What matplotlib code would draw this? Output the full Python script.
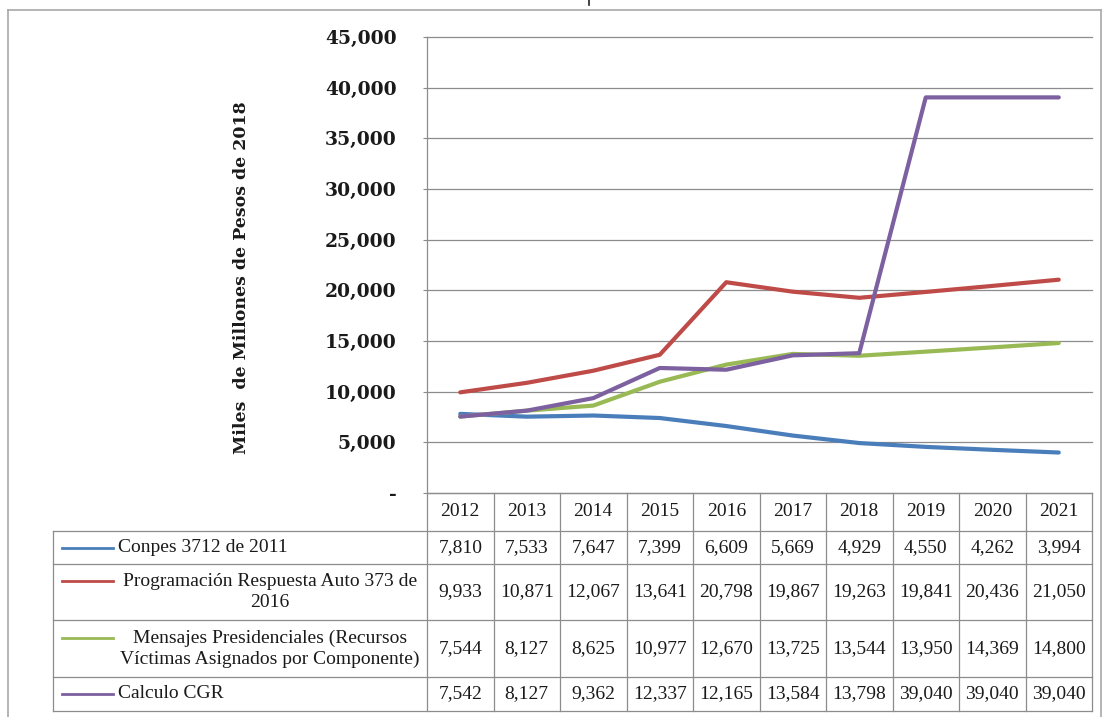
import matplotlib
matplotlib.use("Agg")
import matplotlib.pyplot as plt
from matplotlib.lines import Line2D
from matplotlib import transforms
from matplotlib.ticker import FuncFormatter, MultipleLocator

# ---- data ----
years = ["2012", "2013", "2014", "2015", "2016", "2017", "2018", "2019", "2020", "2021"]
conpes = [7810, 7533, 7647, 7399, 6609, 5669, 4929, 4550, 4262, 3994]
auto373 = [9933, 10871, 12067, 13641, 20798, 19867, 19263, 19841, 20436, 21050]
mensajes = [7544, 8127, 8625, 10977, 12670, 13725, 13544, 13950, 14369, 14800]
cgr = [7542, 8127, 9362, 12337, 12165, 13584, 13798, 39040, 39040, 39040]

series_names = [
    "Conpes 3712 de 2011",
    "Programación Respuesta Auto 373 de\n2016",
    "Mensajes Presidenciales (Recursos\nVíctimas Asignados por Componente)",
    "Calculo CGR",
]
series_values = [conpes, auto373, mensajes, cgr]
series_colors = ["#4A7EBB", "#BE4B48", "#98B954", "#7D60A0"]
y_title = "Miles  de Millones de Pesos de 2018"

W, H = 1110, 717
fig = plt.figure(figsize=(W / 100, H / 100), dpi=100)


def fx(x):
    return x / W


def fy(y):
    return 1 - y / H


# plot area
ax_l, ax_r, ax_t, ax_b = 427, 1092, 37, 493
ax = fig.add_axes([fx(ax_l), fy(ax_b), fx(ax_r - ax_l), (ax_b - ax_t) / H])

xs = list(range(len(years)))
for vals, col in zip(series_values, series_colors):
    ax.plot(xs, vals, color=col, lw=3.0, solid_capstyle="round",
            solid_joinstyle="round", zorder=3)

ax.set_xlim(-0.5, len(years) - 0.5)
ax.set_ylim(0, 45000)
ax.yaxis.set_major_locator(MultipleLocator(5000))
ax.yaxis.set_major_formatter(
    FuncFormatter(lambda v, p: "-" if v == 0 else f"{int(v):,}"))
ax.set_xticks([])
ax.tick_params(axis="y", length=3, color="#8a8a8a", pad=19,
               labelsize=13.5)
for lab in ax.get_yticklabels():
    lab.set_fontfamily("DejaVu Serif")
    lab.set_fontweight("bold")
    lab.set_color("#1a1a1a")
ax.grid(axis="y", color="#8c8c8c", lw=0.9)
for gl in ax.get_ygridlines():
    gl.set_clip_on(False)
for s in ["top", "right"]:
    ax.spines[s].set_visible(False)
for s in ["left", "bottom"]:
    ax.spines[s].set_color("#8c8c8c")
    ax.spines[s].set_linewidth(0.9)

fig.text(fx(242), fy(278), y_title, rotation=90, ha="center", va="center",
         fontsize=12.5, fontweight="bold", family="DejaVu Serif", color="#1a1a1a")

# ---- data table under the plot ----
tbl_left = 53
row_edges = [493, 531, 564, 620, 677, 711]
grid_kw = dict(color="#8c8c8c", lw=0.9)
bt = transforms.blended_transform_factory(ax.transData, fig.transFigure)

# horizontal rules
for y in row_edges[1:]:
    fig.add_artist(Line2D([fx(tbl_left), fx(ax_r)], [fy(y), fy(y)],
                          transform=fig.transFigure, **grid_kw))
# vertical rules between year columns
for i in range(len(years) + 1):
    fig.add_artist(Line2D([i - 0.5, i - 0.5], [fy(row_edges[0]), fy(row_edges[-1])],
                          transform=bt, **grid_kw))
fig.add_artist(Line2D([fx(tbl_left), fx(tbl_left)], [fy(row_edges[1]), fy(row_edges[-1])],
                      transform=fig.transFigure, **grid_kw))

tfont = dict(family="Liberation Serif", fontsize=14, color="#1a1a1a")

# header with years
hc = (row_edges[0] + row_edges[1]) / 2
for i, yr in enumerate(years):
    fig.text(i, fy(hc), yr, transform=bt, ha="center", va="center", **tfont)

for r, (name, vals, col) in enumerate(zip(series_names, series_values, series_colors)):
    top, bot = row_edges[r + 1], row_edges[r + 2]
    rc = (top + bot) / 2
    for i, v in enumerate(vals):
        fig.text(i, fy(rc), f"{v:,}", transform=bt, ha="center", va="center", **tfont)
    if "\n" in name:
        key_y = rc - 11
        fig.text(fx(270), fy(rc), name, ha="center", va="center",
                 multialignment="center", linespacing=1.3, **tfont)
    else:
        key_y = rc
        fig.text(fx(118), fy(rc), name, ha="left", va="center", **tfont)
    fig.add_artist(Line2D([fx(62), fx(113)], [fy(key_y), fy(key_y)],
                          transform=fig.transFigure, color=col, lw=2))

# outer frame
frame_kw = dict(color="#a8a8a8", lw=1.2, transform=fig.transFigure)
fig.add_artist(Line2D([fx(8), fx(1101)], [fy(10), fy(10)], **frame_kw))
fig.add_artist(Line2D([fx(8), fx(8)], [fy(10), 0], **frame_kw))
fig.add_artist(Line2D([fx(1101), fx(1101)], [fy(10), 0], **frame_kw))
fig.add_artist(Line2D([fx(589), fx(589)], [1, fy(5)], color="#222222", lw=1.2,
                      transform=fig.transFigure))

fig.savefig("out.png", dpi=100)
